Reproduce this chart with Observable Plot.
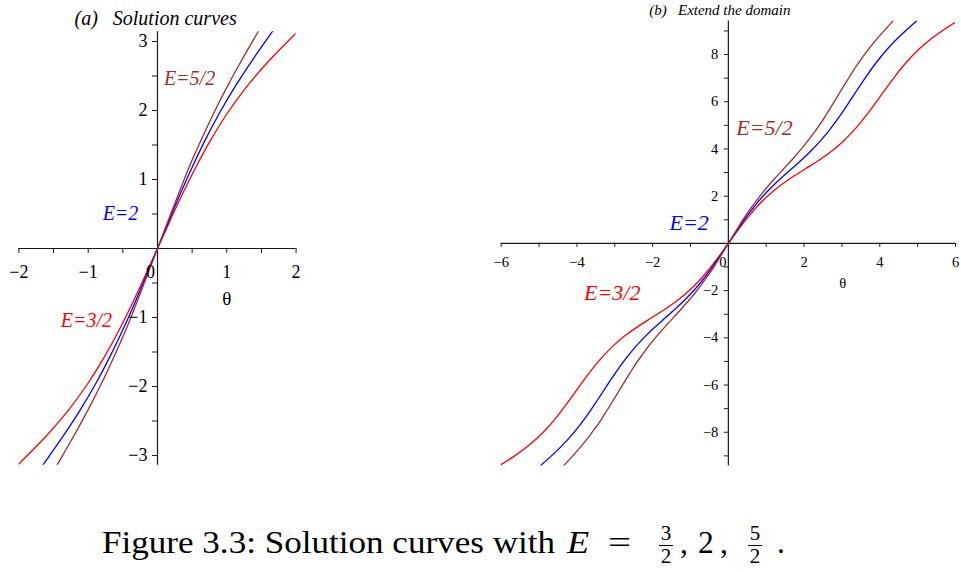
<!DOCTYPE html>
<html><head><meta charset="utf-8">
<script src="https://cdn.jsdelivr.net/npm/d3@7"></script>
<script src="https://cdn.jsdelivr.net/npm/@observablehq/plot@0.6"></script>
<style>
html,body{margin:0;padding:0;background:#fff;}
#wrap{position:relative;width:961px;height:572px;overflow:hidden;background:#fff;font-family:'Liberation Serif','DejaVu Serif',serif;color:#000;}
#left{position:absolute;left:0;top:0;width:320px;height:480px;}
#right{position:absolute;left:480px;top:0;width:481px;height:480px;}
.cap{position:absolute;font-size:31.5px;line-height:31.5px;top:527px;white-space:nowrap;transform-origin:0 50%;}
.frac{position:absolute;width:16px;font-size:21px;line-height:21px;text-align:center;}
.frac .n{position:absolute;left:0;width:16px;top:-3.6px;}
.frac .bar{position:absolute;left:1px;width:14px;top:18px;height:1.2px;background:#000;}
.frac .d{position:absolute;left:0;width:16px;top:19.4px;}
svg text{font-family:'Liberation Serif','DejaVu Serif',serif;}
</style></head><body>
<div id="wrap">
  <div id="left"></div>
  <div id="right"></div>
  <span class="cap" id="capMain" style="left:101.7px">Figure 3.3: Solution curves with</span>
  <span class="cap" style="left:567px;font-style:italic;transform:scaleX(1.15)">E</span>
  <span class="cap" style="left:608px;transform:scaleX(1.3)">=</span>
  <div class="frac" style="left:658px;top:527px"><span class="n">3</span><span class="bar"></span><span class="d">2</span></div>
  <span class="cap" style="left:680px">,</span>
  <span class="cap" style="left:698px">2</span>
  <span class="cap" style="left:720px">,</span>
  <div class="frac" style="left:747px;top:527px"><span class="n">5</span><span class="bar"></span><span class="d">2</span></div>
  <span class="cap" style="left:777px">.</span>
</div>
<script>
// phase y (radians), non-negative half; the curves are odd, so the negative half mirrors it
const yPos = [0, 0.3927, 0.7854, 1.1781, 1.5708, 1.9635, 2.3562, 2.7489, 3.1416, 3.5343, 3.9270, 4.3197, 4.7124,
              5.1051, 5.4978, 5.8905, 6.2832, 6.6759, 7.0686, 7.4613, 7.8540, 8.2467, 8.6394, 9.0321, 9.4248];
// theta read for each curve at those y values
const thetaE32 = [0, 0.1765, 0.3587, 0.5527, 0.7664, 1.0100, 1.2961, 1.6355, 2.0189, 2.4023, 2.7417, 3.0278, 3.2714,
                  3.4851, 3.6791, 3.8613, 4.0378, 4.2143, 4.3965, 4.5905, 4.8042, 5.0478, 5.3339, 5.6733, 6.0567];
const thetaE2  = [0, 0.1610, 0.3262, 0.5001, 0.6878, 0.8947, 1.1258, 1.3823, 1.6566, 1.9310, 2.1875, 2.4186, 2.6255,
                  2.8132, 2.9871, 3.1523, 3.3133, 3.4743, 3.6395, 3.8134, 4.0011, 4.2080, 4.4391, 4.6956, 4.9699];
const thetaE52 = [0, 0.1490, 0.3013, 0.4558, 0.6295, 0.8126, 1.0117, 1.2264, 1.4513, 1.6761, 1.8908, 2.0899, 2.2730,
                  2.4467, 2.6012, 2.7535, 2.9025, 3.0515, 3.2038, 3.3583, 3.5320, 3.7151, 3.9142, 4.1289, 4.3538];

const seriesNames = ["E=3/2", "E=2", "E=5/2"];
const seriesColors = ["#ff0000", "#0000ff", "#a52a2a"];

// panel (a) axes
const aXTicks = [-2, -1.5, -1, -0.5, 0, 0.5, 1, 1.5, 2];
const aYTicks = [-3, -2.5, -2, -1.5, -1, -0.5, 0.5, 1, 1.5, 2, 2.5, 3];
const aXLabelVals = [-2, -1, 1, 2];
const aXLabelText = ["\u22122", "\u22121", "1", "2"];
const aYLabelVals = [-3, -2, -1, 1, 2, 3];
const aYLabelText = ["\u22123", "\u22122", "\u22121", "1", "2", "3"];
// panel (b) axes
const bXTicks = [-6, -5, -4, -3, -2, -1, 0, 1, 2, 3, 4, 5, 6];
const bYTicks = [-9, -8, -7, -6, -5, -4, -3, -2, -1, 1, 2, 3, 4, 5, 6, 7, 8, 9];
const bXLabelVals = [-6, -4, -2, 2, 4, 6];
const bXLabelText = ["\u22126", "\u22124", "\u22122", "2", "4", "6"];
const bYLabelVals = [-8, -6, -4, -2, 2, 4, 6, 8];
const bYLabelText = ["\u22128", "\u22126", "\u22124", "\u22122", "2", "4", "6", "8"];

// curve label anchor points
const aLabelPos = [{x: -1.025, y: -1.043}, {x: -0.534, y: 0.507}, {x: 0.462, y: 2.464}];
const bLabelPos = [{x: -3.067, y: -2.08}, {x: -1.036, y: 0.886}, {x: 0.955, y: 4.91}];

function buildSeries(theta) {
  const pts = [];
  for (let i = yPos.length - 1; i > 0; i--) pts.push({theta: -theta[i], y: -yPos[i]});
  for (let i = 0; i < yPos.length; i++) pts.push({theta: theta[i], y: yPos[i]});
  return pts;
}
const curves = [buildSeries(thetaE32), buildSeries(thetaE2), buildSeries(thetaE52)];

const serif = "'Liberation Serif', 'DejaVu Serif', serif";
const axisColor = "#1a1a1a";

function curveMarks() {
  return curves.map((pts, i) => Plot.line(pts, {
    x: "theta", y: "y", stroke: seriesColors[i], strokeWidth: 1.3,
    curve: "catmull-rom", clip: true
  }));
}

const plotA = Plot.plot({
  width: 320, height: 480,
  marginLeft: 18.4, marginRight: 24.4, marginTop: 31.2, marginBottom: 15.2,
  x: {domain: [-2, 2]}, y: {domain: [-Math.PI, Math.PI]},
  axis: null,
  style: {background: "transparent", fontFamily: serif, overflow: "visible"},
  marks: [
    Plot.ruleY([0], {stroke: axisColor, strokeWidth: 1.2}),
    Plot.ruleX([0], {stroke: axisColor, strokeWidth: 1.2}),
    Plot.ruleX(aXTicks, {x: d => d, y1: 0, y2: 0, insetBottom: -5, stroke: axisColor}),
    Plot.ruleY(aYTicks, {y: d => d, x1: 0, x2: 0, insetLeft: -5, stroke: axisColor}),
    ...curveMarks(),
    Plot.text(aXLabelVals, {x: d => d, y: 0, text: (d, i) => aXLabelText[i], dy: 23.5, fontSize: 18}),
    Plot.text([0], {x: d => d, y: 0, text: () => "0", dy: 23.5, dx: -7, fontSize: 18}),
    Plot.text(aYLabelVals, {x: 0, y: d => d, text: (d, i) => aYLabelText[i], dx: -10, textAnchor: "end", fontSize: 18}),
    Plot.text([1], {x: d => d, y: -0.725, text: () => "\u03b8", fontSize: 19}),
    Plot.text(aLabelPos, {x: "x", y: "y", text: (d, i) => seriesNames[i], fill: (d, i) => seriesColors[i],
      fontSize: 20, fontStyle: "italic"}),
    Plot.text([{x: -1.198, y: 3.326}], {x: "x", y: "y", text: () => "(a)\u00a0\u00a0\u00a0Solution curves",
      textAnchor: "start", fontSize: 20, fontStyle: "italic"})
  ]
});
document.getElementById("left").appendChild(plotA);

const plotB = Plot.plot({
  width: 481, height: 480,
  marginLeft: 20.7, marginRight: 6, marginTop: 20.4, marginBottom: 14.6,
  x: {domain: [-6, 6]}, y: {domain: [-3 * Math.PI, 3 * Math.PI]},
  axis: null,
  style: {background: "transparent", fontFamily: serif, overflow: "visible"},
  marks: [
    Plot.ruleY([0], {stroke: axisColor, strokeWidth: 1.2}),
    Plot.ruleX([0], {stroke: axisColor, strokeWidth: 1.2}),
    Plot.ruleX(bXTicks, {x: d => d, y1: 0, y2: 0, insetBottom: -4, stroke: axisColor}),
    Plot.ruleY(bYTicks, {y: d => d, x1: 0, x2: 0, insetLeft: -4, stroke: axisColor}),
    ...curveMarks(),
    Plot.text(bXLabelVals, {x: d => d, y: 0, text: (d, i) => bXLabelText[i], dy: 19, fontSize: 14.5}),
    Plot.text([0], {x: d => d, y: 0, text: () => "0", dy: 19, dx: -5.5, fontSize: 14.5}),
    Plot.text(bYLabelVals, {x: 0, y: d => d, text: (d, i) => bYLabelText[i], dx: -10, textAnchor: "end", fontSize: 14.5}),
    Plot.text([3.02], {x: d => d, y: -1.71, text: () => "\u03b8", fontSize: 14.5}),
    Plot.text(bLabelPos, {x: "x", y: "y", text: (d, i) => seriesNames[i], fill: (d, i) => seriesColors[i],
      fontSize: 22, fontStyle: "italic"}),
    Plot.text([{x: -2.09, y: 9.87}], {x: "x", y: "y", text: () => "(b)\u00a0\u00a0\u00a0Extend the domain",
      textAnchor: "start", fontSize: 15, fontStyle: "italic"})
  ]
});
document.getElementById("right").appendChild(plotB);

// widen the caption glyphs to the reference text width
const capMain = document.getElementById("capMain");
const w0 = capMain.getBoundingClientRect().width;
capMain.style.transform = "scaleX(" + (453 / w0) + ")";
</script>
</body></html>
